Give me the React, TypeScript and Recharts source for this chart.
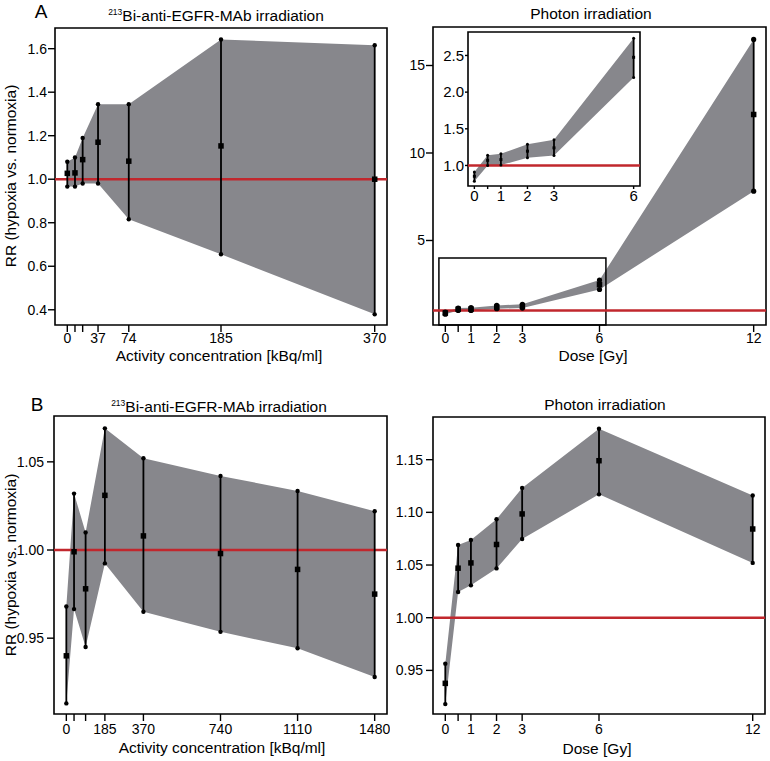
import React from "react";
import {
  ComposedChart,
  Area,
  Scatter,
  ErrorBar,
  XAxis,
  YAxis,
  ReferenceLine,
  ReferenceArea,
} from "recharts";

const FONT = '"Liberation Sans", Arial, Helvetica, sans-serif';
const BAND = "#87878c";
const RED = "#c1272d";

// A – 213Bi-anti-EGFR-MAb, activity concentration [kBq/ml]
const biAx = [0, 9.25, 18.5, 37, 74, 185, 370];
const biAmean = [1.027, 1.029, 1.09, 1.17, 1.083, 1.153, 1.0];
const biAupper = [1.08, 1.1, 1.19, 1.345, 1.345, 1.642, 1.616];
const biAlower = [0.966, 0.966, 0.98, 0.98, 0.816, 0.655, 0.379];
const biAxTicks = [0, 9.25, 18.5, 37, 74, 185, 370];
const biAyTicks = [0.4, 0.6, 0.8, 1.0, 1.2, 1.4, 1.6];

// A – photon irradiation, dose [Gy]
const phAx = [0, 0.5, 1, 2, 3, 6, 12];
const phAmean = [0.853, 1.07, 1.08, 1.195, 1.24, 2.475, 12.2];
const phAupper = [0.91, 1.14, 1.16, 1.29, 1.35, 2.735, 16.49];
const phAlower = [0.785, 1.0, 1.005, 1.105, 1.137, 2.2, 7.82];
const doseTicks = [0, 0.5, 1, 2, 3, 6, 12];
const phAyTicks = [5, 10, 15];
const insetXTicks = [0, 0.5, 1, 2, 3, 6];
const insetYTicks = [1.0, 1.5, 2.0, 2.5];

// B – 213Bi-anti-EGFR-MAb
const biBx = [0, 37, 92.5, 185, 370, 740, 1110, 1480];
const biBmean = [0.94, 0.999, 0.978, 1.031, 1.008, 0.998, 0.989, 0.975];
const biBupper = [0.968, 1.032, 1.01, 1.069, 1.052, 1.042, 1.0335, 1.022];
const biBlower = [0.913, 0.9665, 0.945, 0.9924, 0.965, 0.9536, 0.9443, 0.928];
const biBxTicks = [0, 37, 92.5, 185, 370, 740, 1110, 1480];
const biByTicks = [0.95, 1.0, 1.05];

// B – photon irradiation
const phBx = [0, 0.5, 1, 2, 3, 6, 12];
const phBmean = [0.9377, 1.047, 1.052, 1.0695, 1.0985, 1.149, 1.0842];
const phBupper = [0.9564, 1.069, 1.0737, 1.0935, 1.1232, 1.1794, 1.116];
const phBlower = [0.918, 1.0244, 1.0307, 1.0468, 1.0747, 1.1171, 1.052];
const phByTicks = [0.95, 1.0, 1.05, 1.1, 1.15];

const rows = (xs: number[], mean: number[], upper: number[], lower: number[]) =>
  xs.map((x, i) => ({
    x,
    mean: mean[i],
    upper: upper[i],
    lower: lower[i],
    band: [lower[i], upper[i]],
    err: [mean[i] - lower[i], upper[i] - mean[i]],
  }));

const square = (s: number) => (p: any) =>
  <rect x={p.cx - s / 2} y={p.cy - s / 2} width={s} height={s} fill="#000" />;
const dot = (r: number) => (p: any) => <circle cx={p.cx} cy={p.cy} r={r} fill="#000" />;

type PanelProps = {
  left: number;
  top: number;
  width: number;
  height: number;
  margin: { top: number; right: number; left: number; bottom: number };
  yWidth: number;
  xHeight: number;
  data: any[];
  xDomain: [number, number];
  yDomain: [number, number];
  xTicks: number[];
  yTicks: number[];
  xFmt: (v: number) => string;
  yFmt: (v: number) => string;
  tickSize?: number;
  tickMargin?: number;
  fontSize?: number;
  sq?: number;
  r?: number;
  children?: React.ReactNode;
};

function Panel(p: PanelProps) {
  const ts = p.tickSize ?? 7;
  const tm = p.tickMargin ?? 1;
  const fs = p.fontSize ?? 14;
  const tick = { fill: "#000", fontSize: fs, fontFamily: FONT };
  const tl = { stroke: "#000", strokeWidth: 1.4 };
  return (
    <div style={{ position: "absolute", left: p.left, top: p.top }}>
      <ComposedChart width={p.width} height={p.height} data={p.data} margin={p.margin}>
        <XAxis
          dataKey="x"
          type="number"
          domain={p.xDomain}
          ticks={p.xTicks}
          interval={0}
          tickFormatter={p.xFmt}
          allowDataOverflow
          axisLine={false}
          tickLine={tl}
          tickSize={ts}
          tickMargin={tm}
          tick={tick}
          height={p.xHeight}
        />
        <YAxis
          type="number"
          domain={p.yDomain}
          ticks={p.yTicks}
          interval={0}
          tickFormatter={p.yFmt}
          allowDataOverflow
          axisLine={false}
          tickLine={tl}
          tickSize={ts}
          tickMargin={tm}
          tick={tick}
          width={p.yWidth}
        />
        <Area
          dataKey="band"
          type="linear"
          fill={BAND}
          fillOpacity={1}
          stroke="none"
          isAnimationActive={false}
        />
        <ReferenceLine y={1} stroke={RED} strokeWidth={2.6} />
        {p.children}
        <Scatter dataKey="upper" shape={dot(p.r ?? 2.2)} isAnimationActive={false} />
        <Scatter dataKey="lower" shape={dot(p.r ?? 2.2)} isAnimationActive={false} />
        <Scatter dataKey="mean" shape={square(p.sq ?? 5.5)} isAnimationActive={false}>
          <ErrorBar dataKey="err" direction="y" width={0} stroke="#000" strokeWidth={1.8} />
        </Scatter>
        <ReferenceArea
          x1={p.xDomain[0]}
          x2={p.xDomain[1]}
          y1={p.yDomain[0]}
          y2={p.yDomain[1]}
          fill="none"
          stroke="#000"
          strokeWidth={1.6}
          ifOverflow="visible"
        />
      </ComposedChart>
    </div>
  );
}

function Txt({ x, y, size, children }: { x: number; y: number; size: number; children: React.ReactNode }) {
  return (
    <div
      style={{
        position: "absolute",
        left: x - 250,
        width: 500,
        top: y - size * 0.5,
        lineHeight: `${size}px`,
        fontSize: size,
        textAlign: "center",
        fontFamily: FONT,
        whiteSpace: "nowrap",
        color: "#000",
      }}
    >
      {children}
    </div>
  );
}

function YLabel({ x, y }: { x: number; y: number }) {
  return (
    <div
      style={{
        position: "absolute",
        left: x,
        top: y,
        transform: "translate(-50%, -50%) rotate(-90deg)",
        fontSize: 15.5,
        lineHeight: "16px",
        fontFamily: FONT,
        whiteSpace: "nowrap",
        color: "#000",
      }}
    >
      RR (hypoxia vs. normoxia)
    </div>
  );
}

const BiTitle = () => (
  <>
    <sup style={{ fontSize: 8.5, verticalAlign: "6px" }}>213</sup>Bi-anti-EGFR-MAb irradiation
  </>
);

const hideAt = (hidden: number[]) => (v: number) => (hidden.includes(v) ? "" : String(v));
const fix = (d: number) => (v: number) => v.toFixed(d);

export default function App() {
  return (
    <div
      style={{
        position: "absolute",
        left: 0,
        top: 0,
        width: 770,
        height: 761,
        background: "#fff",
        fontFamily: FONT,
      }}
    >
      {/* A left */}
      <Panel
        left={0}
        top={0}
        width={390}
        height={370}
        margin={{ top: 28, right: 3, left: 5, bottom: 0 }}
        yWidth={50}
        xHeight={45}
        data={rows(biAx, biAmean, biAupper, biAlower)}
        xDomain={[-14.8, 384.8]}
        yDomain={[0.33, 1.695]}
        xTicks={biAxTicks}
        yTicks={biAyTicks}
        xFmt={hideAt([9.25, 18.5])}
        yFmt={fix(1)}
      />
      {/* A right */}
      <Panel
        left={380}
        top={0}
        width={390}
        height={370}
        margin={{ top: 27, right: 4, left: 3, bottom: 0 }}
        yWidth={50}
        xHeight={45}
        data={rows(phAx, phAmean, phAupper, phAlower)}
        xDomain={[-0.48, 12.48]}
        yDomain={[0.17, 17.2]}
        xTicks={doseTicks}
        yTicks={phAyTicks}
        xFmt={hideAt([0.5])}
        yFmt={(v) => String(v)}
        r={2.6}
      >
        <ReferenceArea
          x1={-0.25}
          x2={6.25}
          y1={0.17}
          y2={4.0}
          fill="none"
          stroke="#000"
          strokeWidth={1.5}
          ifOverflow="visible"
        />
      </Panel>
      {/* A right inset */}
      <Panel
        left={430}
        top={0}
        width={215}
        height={206}
        margin={{ top: 32, right: 5, left: 8, bottom: 0 }}
        yWidth={30}
        xHeight={20}
        data={rows(phAx.slice(0, 6), phAmean.slice(0, 6), phAupper.slice(0, 6), phAlower.slice(0, 6))}
        xDomain={[-0.24, 6.24]}
        yDomain={[0.72, 2.82]}
        xTicks={insetXTicks}
        yTicks={insetYTicks}
        xFmt={hideAt([0.5])}
        yFmt={fix(1)}
        tickSize={3}
        tickMargin={1}
        fontSize={15}
        sq={3}
        r={1.5}
      />
      {/* B left */}
      <Panel
        left={0}
        top={380}
        width={390}
        height={379}
        margin={{ top: 36, right: 3, left: 4, bottom: 0 }}
        yWidth={50}
        xHeight={45}
        data={rows(biBx, biBmean, biBupper, biBlower)}
        xDomain={[-59.2, 1539.2]}
        yDomain={[0.907, 1.076]}
        xTicks={biBxTicks}
        yTicks={biByTicks}
        xFmt={hideAt([37, 92.5])}
        yFmt={fix(2)}
        tickMargin={3}
      />
      {/* B right */}
      <Panel
        left={380}
        top={380}
        width={390}
        height={379}
        margin={{ top: 37, right: 5, left: 3, bottom: 0 }}
        yWidth={50}
        xHeight={45}
        data={rows(phBx, phBmean, phBupper, phBlower)}
        xDomain={[-0.48, 12.48]}
        yDomain={[0.9086, 1.1905]}
        xTicks={doseTicks}
        yTicks={phByTicks}
        xFmt={hideAt([0.5])}
        yFmt={fix(2)}
        tickMargin={3}
      />

      <Txt x={41} y={11} size={19}>A</Txt>
      <Txt x={37} y={404} size={19}>B</Txt>
      <Txt x={216} y={13} size={15.5}><BiTitle /></Txt>
      <Txt x={591} y={14} size={15.5}>Photon irradiation</Txt>
      <Txt x={219} y={404} size={15.5}><BiTitle /></Txt>
      <Txt x={605} y={405} size={15.5}>Photon irradiation</Txt>
      <Txt x={219} y={356} size={15.5}>Activity concentration [kBq/ml]</Txt>
      <Txt x={593} y={356} size={15.5}>Dose [Gy]</Txt>
      <Txt x={222} y={748} size={15.5}>Activity concentration [kBq/ml]</Txt>
      <Txt x={597} y={749} size={15.5}>Dose [Gy]</Txt>
      <YLabel x={11} y={176} />
      <YLabel x={11} y={565} />
    </div>
  );
}
